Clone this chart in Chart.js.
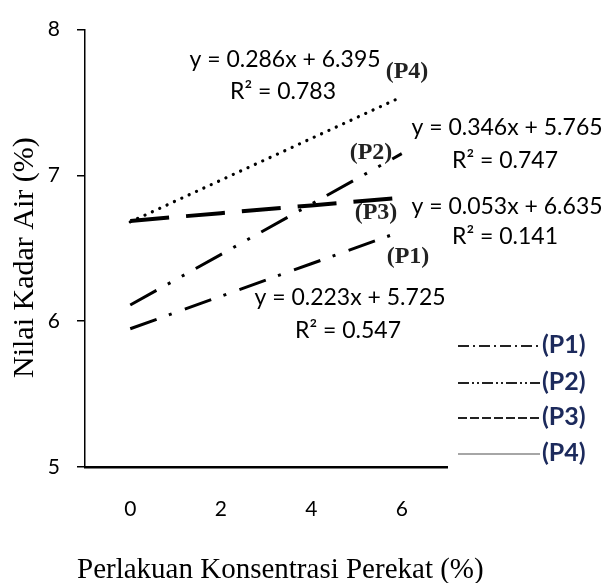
<!DOCTYPE html>
<html>
<head>
<meta charset="utf-8">
<script src="https://cdn.jsdelivr.net/npm/chart.js@4.4.1/dist/chart.umd.min.js"></script>
<style>
  body { margin: 0; background: #fff; }
  #wrap { width: 608px; height: 583px; }
</style>
</head>
<body>
<div id="wrap"><canvas id="kadarAir" width="608" height="583"></canvas></div>
<script>
// data
var konsentrasi = [0, 2, 4, 6];
var p1 = [5.948, 6.171, 6.394, 6.617];
var p2 = [6.111, 6.457, 6.803, 7.149];
var p3 = [6.688, 6.741, 6.794, 6.847];
var p4 = [6.681, 6.967, 7.253, 7.539];
var seriesNames = ["(P1)", "(P2)", "(P3)", "(P4)"];
var equations = ["y = 0.223x + 5.725", "y = 0.346x + 5.765", "y = 0.053x + 6.635", "y = 0.286x + 6.395"];
var rSquared = ["R\u00b2 = 0.547", "R\u00b2 = 0.747", "R\u00b2 = 0.141", "R\u00b2 = 0.783"];
var yTicks = [5, 6, 7, 8];
var xTicks = [0, 2, 4, 6];
var xTitle = "Perlakuan Konsentrasi Perekat (%)";
var yTitle = "Nilai Kadar Air (%)";

function toPoints(vals) {
    return konsentrasi.map(function (x, i) { return { x: x, y: vals[i] }; });
}

// axis titles, trendline labels, legend
var labelPlugin = {
    id: "labelPlugin",
    afterDraw: function (chart) {
        var c = chart.ctx;
        c.save();
        c.fillStyle = "#000";
        c.textBaseline = "alphabetic";
        c.textAlign = "left";
        c.font = "29px 'Liberation Serif'";
        c.fillText(xTitle, 77, 578);
        c.save();
        c.translate(33, 378);
        c.rotate(-Math.PI / 2);
        c.font = "30px 'Liberation Serif'";
        c.fillText(yTitle, 0, 0);
        c.restore();

        c.textBaseline = "middle";
        c.textAlign = "center";
        c.font = "23px Lato";
        // [eqX, eqY, r2Y]
        var eqPos = [[350, 298, 331], [507, 128, 161], [507, 207, 237], [285, 60, 92]];
        for (var i = 0; i < 4; i++) {
            c.fillText(equations[i], eqPos[i][0], eqPos[i][1]);
            c.fillText(rSquared[i], eqPos[i][0] - 2, eqPos[i][2]);
        }
        c.font = "bold 24px 'Liberation Serif'";
        c.fillStyle = "#222";
        var namePos = [[408, 257], [371, 153], [376, 213], [407, 72]];
        for (var i = 0; i < 4; i++) {
            c.fillText(seriesNames[i], namePos[i][0], namePos[i][1]);
        }
        // legend
        var legY = [345, 382, 417, 453];
        var legDash = [[11, 4, 2, 4], [11, 3, 2, 3, 2, 3], [9, 3], []];
        for (var i = 0; i < 4; i++) {
            c.beginPath();
            c.setLineDash(legDash[i]);
            c.lineWidth = i == 3 ? 1.5 : 2;
            c.strokeStyle = i == 3 ? "#888" : "#222";
            c.moveTo(458, legY[i] + 1);
            c.lineTo(540, legY[i] + 1);
            c.stroke();
        }
        c.setLineDash([]);
        c.textAlign = "left";
        c.font = "bold 25px Lato";
        c.fillStyle = "#1c2a5c";
        for (var i = 0; i < 4; i++) {
            c.fillText(seriesNames[i], 542, legY[i]);
        }
        c.restore();
    },
};

var ctx = document.getElementById("kadarAir").getContext("2d");
var kadarAirChart = new Chart(ctx, {
    type: "line",
    data: {
        datasets: [
            {
                label: "P1",
                data: toPoints(p1),
                borderColor: "#000",
                borderWidth: 3,
                borderDash: [28, 13, 3, 14],
            },
            {
                label: "P2",
                data: toPoints(p2),
                borderColor: "#000",
                borderWidth: 3,
                borderDash: [30, 13, 3, 13, 3, 13],
            },
            {
                label: "P3",
                data: toPoints(p3),
                borderColor: "#000",
                borderWidth: 4,
                borderDash: [39, 17],
            },
            {
                label: "P4",
                data: toPoints(p4),
                borderColor: "#000",
                borderWidth: 3.2,
                borderDash: [0.1, 8],
                borderCapStyle: "round",
            },
        ],
    },
    options: {
        responsive: false,
        animation: false,
        devicePixelRatio: 1,
        layout: { padding: { top: 21, right: 161, bottom: 0, left: 0 } },
        elements: { point: { radius: 0 }, line: { tension: 0 } },
        plugins: { legend: { display: false }, tooltip: { enabled: false } },
        scales: {
            x: {
                type: "linear",
                min: -1,
                max: 7,
                afterBuildTicks: function (s) {
                    s.ticks = xTicks.map(function (v) { return { value: v }; });
                },
                afterFit: function (s) { s.height = 116; },
                grid: { display: false, drawTicks: false },
                border: { display: true, color: "#000", width: 2.5 },
                ticks: { padding: 30, color: "#000", font: { family: "Lato", size: 21 } },
            },
            y: {
                min: 5,
                max: 8,
                afterBuildTicks: function (s) {
                    s.ticks = yTicks.map(function (v) { return { value: v }; });
                },
                afterFit: function (s) { s.width = 85; },
                grid: { drawOnChartArea: false, tickLength: 8, color: "#000", lineWidth: 1.5 },
                border: { display: true, color: "#000", width: 1.5 },
                ticks: { padding: 17, color: "#000", font: { family: "Lato", size: 21 } },
            },
        },
    },
    plugins: [labelPlugin],
});
</script>
</body>
</html>
